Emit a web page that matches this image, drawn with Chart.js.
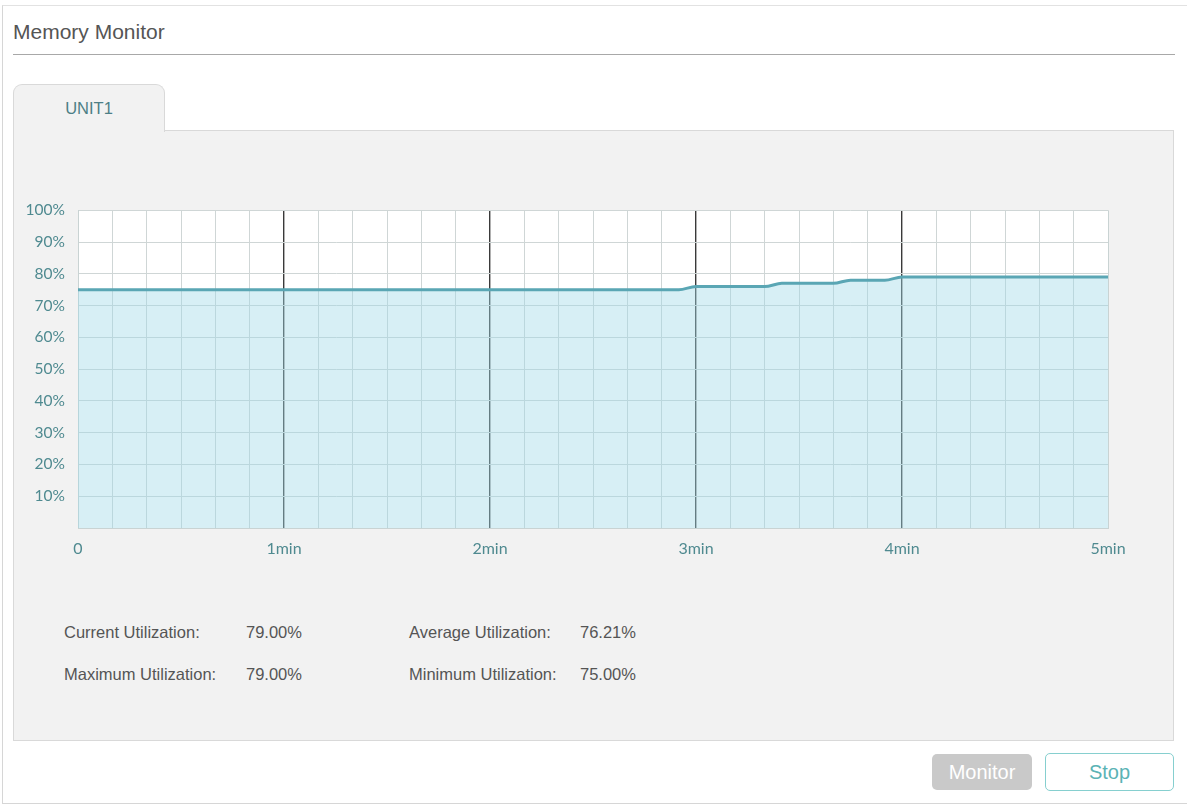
<!DOCTYPE html>
<html>
<head>
<meta charset="utf-8">
<script src="https://cdn.jsdelivr.net/npm/chart.js@4/dist/chart.umd.min.js"></script>
<style>
  html,body{margin:0;padding:0;background:#fff;width:1187px;height:806px;overflow:hidden;font-family:"Liberation Sans",Arial,sans-serif;}
  #frame{position:absolute;left:2px;top:5px;width:1190px;height:797px;border-left:1px solid #d6d6d6;border-top:1px solid #e2e2e2;border-bottom:1px solid #d6d6d6;}
  #title{position:absolute;left:13px;top:20px;font-size:21px;color:#555;}
  #rule{position:absolute;left:13px;top:54px;width:1162px;height:0;border-top:1px solid #a8a8a8;}
  #tab{position:absolute;left:13px;top:84px;width:150px;height:47px;background:#f2f2f2;border:1px solid #d9d9d9;border-bottom:none;border-radius:9px 9px 0 0;z-index:2;}
  #tab span{position:absolute;left:0;width:150px;top:14px;text-align:center;font-size:16.5px;color:#4d7f86;}
  #panel{position:absolute;left:13px;top:130px;width:1159px;height:609px;background:#f2f2f2;border:1px solid #d9d9d9;}
  #cwrap{position:absolute;left:14px;top:188px;width:1140px;height:377px;z-index:3;}
  .st{position:absolute;font-size:16.5px;color:#555;z-index:3;}
  #btnM{position:absolute;left:932px;top:754px;width:100px;height:36px;background:#c9c9c9;border-radius:5px;color:#fff;font-size:20px;text-align:center;line-height:36px;}
  #btnS{position:absolute;left:1045px;top:753px;width:127px;height:36px;background:#fff;border:1px solid #86cfcf;border-radius:5px;color:#5bb3b5;font-size:20px;text-align:center;line-height:36px;}
</style>
</head>
<body>
<div id="frame"></div>
<div id="title">Memory Monitor</div>
<div id="rule"></div>
<div id="tab"><span>UNIT1</span></div>
<div id="panel"></div>
<div id="cwrap"><canvas id="c"></canvas></div>
<div class="st" style="left:64px;top:623px;">Current Utilization:</div>
<div class="st" style="left:246px;top:623px;">79.00%</div>
<div class="st" style="left:409px;top:623px;">Average Utilization:</div>
<div class="st" style="left:580px;top:623px;">76.21%</div>
<div class="st" style="left:64px;top:665px;">Maximum Utilization:</div>
<div class="st" style="left:246px;top:665px;">79.00%</div>
<div class="st" style="left:409px;top:665px;">Minimum Utilization:</div>
<div class="st" style="left:580px;top:665px;">75.00%</div>
<div id="btnM">Monitor</div>
<div id="btnS">Stop</div>
<script>
// time in seconds, sampled every 5 s
const timeSeconds = [0,5,10,15,20,25,30,35,40,45,50,55,60,65,70,75,80,85,90,95,100,105,110,115,120,125,130,135,140,145,150,155,160,165,170,175,180,185,190,195,200,205,210,215,220,225,230,235,240,245,250,255,260,265,270,275,280,285,290,295,300];
const memoryPercent = [75,75,75,75,75,75,75,75,75,75,75,75,75,75,75,75,75,75,75,75,75,75,75,75,75,75,75,75,75,75,75,75,75,75,75,75,76,76,76,76,76,77,77,77,77,78,78,78,79,79,79,79,79,79,79,79,79,79,79,79,79];
const xTickValues = [0,60,120,180,240,300];
const xTickLabels = ['0','1min','2min','3min','4min','5min'];
const yTickValues = [10,20,30,40,50,60,70,80,90,100];
const yTickLabels = ['10%','20%','30%','40%','50%','60%','70%','80%','90%','100%'];

const points = timeSeconds.map((t,i)=>({x:t,y:memoryPercent[i]}));

const plotBg = {
  id:'plotBg',
  beforeDraw(chart){
    const {ctx, chartArea:a} = chart;
    ctx.save(); ctx.fillStyle='#fff'; ctx.fillRect(a.left,a.top,a.right-a.left,a.bottom-a.top); ctx.restore();
  }
};

new Chart(document.getElementById('c'), {
  type:'line',
  data:{datasets:[{
    data:points,
    borderColor:'#5aa6b4',
    borderWidth:3,
    backgroundColor:'rgba(160,218,232,0.42)',
    fill:'origin',
    pointRadius:0,
    cubicInterpolationMode:'monotone'
  }]},
  options:{
    responsive:true, maintainAspectRatio:false, animation:false,
    layout:{padding:{left:0,right:46,top:3,bottom:0}},
    plugins:{legend:{display:false},tooltip:{enabled:false}},
    scales:{
      x:{
        type:'linear', min:0, max:300,
        afterBuildTicks(s){ s.ticks = Array.from({length:31},(_,i)=>({value:i*10})); },
        afterFit(s){ s.height = 37; },
        ticks:{
          autoSkip:false, maxRotation:0, padding:11,
          color:'#4f8a90', font:{family:'Lato', size:16},
          callback(v){ const k = xTickValues.indexOf(v); return k>=0 ? xTickLabels[k] : ''; }
        },
        grid:{
          drawTicks:false,
          color(c){ const v=c.tick.value; if(v===0||v===300) return '#c9d3d3'; return (v%60===0)?'#3a3a3a':'#cfd6d6'; },
          lineWidth(c){ const v=c.tick.value; return (v%60===0 && v!==0 && v!==300)?1.4:1; }
        },
        border:{display:true,color:'#c9d3d3'}
      },
      y:{
        min:0, max:100,
        afterBuildTicks(s){ s.ticks = [{value:0}].concat(yTickValues.map(v=>({value:v}))); },
        afterFit(s){ s.width = 64; },
        ticks:{
          padding:13, color:'#4f8a90', font:{family:'Lato', size:15.5},
          callback(v){ const k = yTickValues.indexOf(v); return k>=0 ? yTickLabels[k] : ''; }
        },
        grid:{drawTicks:false, color:'#cfd6d6'},
        border:{display:true,color:'#c9d3d3'}
      }
    }
  },
  plugins:[plotBg]
});
</script>
</body>
</html>
